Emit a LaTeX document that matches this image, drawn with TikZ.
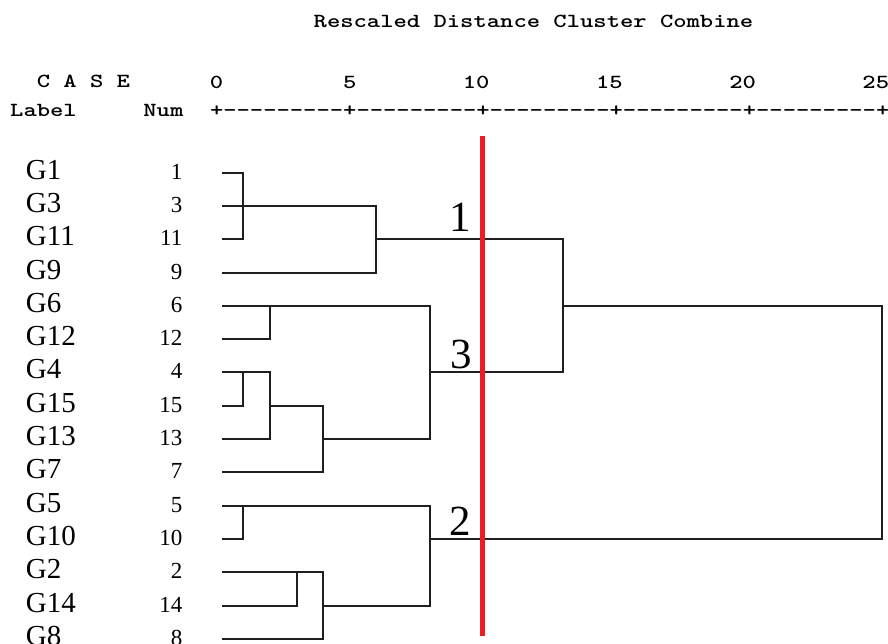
\documentclass[tikz,border=0pt]{standalone}
\usepackage{fontspec}
\setmainfont{Liberation Serif}
\definecolor{cutred}{RGB}{237,28,36}
\newcommand{\monotxt}[1]{\scalebox{1.2686}[1]{\ttfamily\bfseries\fontsize{20}{20}\selectfont #1}}
\begin{document}
\begin{tikzpicture}[x=1pt,y=-1pt,
  link/.style={draw=black!88, line width=1.8pt, line cap=rect},
  leaflbl/.style={anchor=base west, inner sep=0pt, font=\fontsize{29}{29}\selectfont},
  numlbl/.style={anchor=base east, inner sep=0pt, font=\fontsize{23}{23}\selectfont},
  hdr/.style={anchor=base west, inner sep=0pt, text=black},
  ticklbl/.style={anchor=base, inner sep=0pt, text=black},
  grp/.style={anchor=base, inner sep=0pt, font=\fontsize{43}{43}\selectfont},
  cut/.style={draw=cutred, line width=4.5pt}]
\useasboundingbox (0,0) rectangle (888,644);

% header
\node[hdr] (title) at (313.5,27.7) {\monotxt{Rescaled Distance Cluster Combine}};
\node[hdr] (case) at (36.6,87.5) {\monotxt{C A S E}};
\node[hdr] (labelh) at (10,117) {\monotxt{Label}};
\node[hdr] (numh) at (143.2,117) {\monotxt{Num}};
\node[hdr] (axis) at (209.8,117) {\monotxt{+---------+---------+---------+---------+---------+}};
\node[ticklbl] (t0) at (216.5,88.5) {\monotxt{0}};
\node[ticklbl] (t5) at (349.7,88.5) {\monotxt{5}};
\node[ticklbl] (t10) at (476.2,88.5) {\monotxt{10}};
\node[ticklbl] (t15) at (609.4,88.5) {\monotxt{15}};
\node[ticklbl] (t20) at (742.6,88.5) {\monotxt{20}};
\node[ticklbl] (t25) at (875.8,88.5) {\monotxt{25}};

% rows
\foreach \lab/\num/\yy [count=\i] in {G1/1/173,G3/3/206,G11/11/239,G9/9/273,G6/6/306,G12/12/339,G4/4/372,G15/15/406,G13/13/439,G7/7/472,G5/5/506,G10/10/539,G2/2/572,G14/14/606,G8/8/639}{
  \coordinate (r\i) at (223,\yy);
  \node[leaflbl] (lab\i) at (25.7,\yy+6.4) {\lab};
  \node[numlbl] (num\i) at (182.5,\yy+6.6) {\num};
}

% merge points
\coordinate (A) at (243,206);
\coordinate (B) at (376,239);
\coordinate (C) at (270,306);
\coordinate (D) at (243,372);
\coordinate (E) at (270,406);
\coordinate (F) at (323,439);
\coordinate (G) at (430,372);
\coordinate (H) at (563,306);
\coordinate (I) at (243,506);
\coordinate (J) at (297,572);
\coordinate (K) at (323,606);
\coordinate (L) at (430,539);
\coordinate (R) at (882,306);

\draw[link] (r1) -| (A);
\draw[link] (r3) -| (A);
\draw[link] (r2) -- (A);
\draw[link] (A) -| (B);
\draw[link] (r4) -| (B);
\draw[link] (B) -| (H);
\draw[link] (r5) -- (C);
\draw[link] (r6) -| (C);
\draw[link] (r7) -- (D);
\draw[link] (r8) -| (D);
\draw[link] (D) -| (E);
\draw[link] (r9) -| (E);
\draw[link] (E) -| (F);
\draw[link] (r10) -| (F);
\draw[link] (C) -| (G);
\draw[link] (F) -| (G);
\draw[link] (G) -| (H);
\draw[link] (H) -- (R);
\draw[link] (r11) -- (I);
\draw[link] (r12) -| (I);
\draw[link] (r13) -- (J);
\draw[link] (r14) -| (J);
\draw[link] (J) -| (K);
\draw[link] (r15) -| (K);
\draw[link] (I) -| (L);
\draw[link] (K) -| (L);
\draw[link] (L) -| (R);

% cut line
\coordinate (cutT) at (482.7,136);
\coordinate (cutB) at (482.7,636);
\draw[cut] (cutT) -- (cutB);

% group labels
\node[grp] (g1) at (460,231.7) {1};
\node[grp] (g3) at (461,368.3) {3};
\node[grp] (g2) at (460.5,535) {2};
\end{tikzpicture}
\end{document}
